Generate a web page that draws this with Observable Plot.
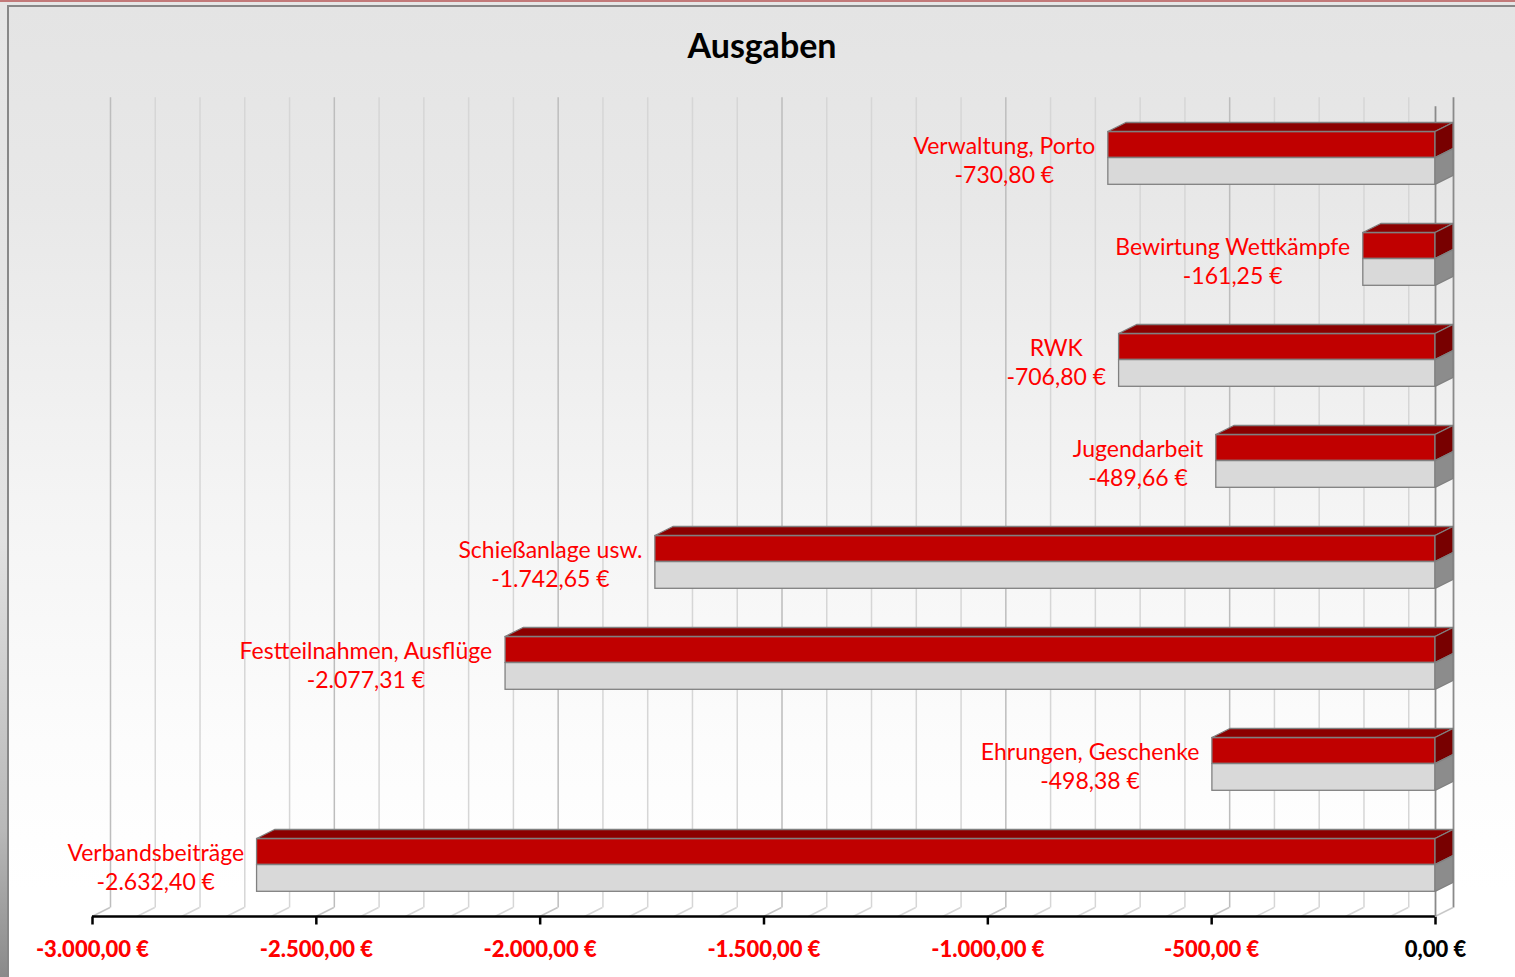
<!DOCTYPE html>
<html><head><meta charset="utf-8">
<script src="https://cdn.jsdelivr.net/npm/d3@7"></script>
<script src="https://cdn.jsdelivr.net/npm/@observablehq/plot@0.6"></script>
<style>
html,body{margin:0;padding:0;}
body{width:1515px;height:977px;overflow:hidden;background:#e6e6e6;position:relative;font-family:Lato,sans-serif;}
#topline{position:absolute;left:0;top:0;width:1515px;height:2px;background:#c27a7a;}
#leftstrip{position:absolute;left:0;top:2px;width:7px;height:975px;background:linear-gradient(to bottom,#e6e6e6 0%,#e2e2e2 55%,#b8b8b8 85%,#8a8a8a 100%);}
#frame{position:absolute;left:7px;top:5px;width:1520px;height:980px;border-left:2px solid #888;border-top:2px solid #888;background:linear-gradient(to bottom,#e4e4e4 0%,#e8e8e8 20%,#f4f4f4 50%,#fcfcfc 75%,#ffffff 90%);}
#title{position:absolute;left:0;top:25px;width:1524px;text-align:center;font-family:Lato,sans-serif;font-weight:bold;font-size:34px;line-height:40px;color:#000;}
#chart{position:absolute;left:0;top:90px;}
</style>
</head><body>
<div id="topline"></div>
<div id="leftstrip"></div>
<div id="frame"></div>
<div id="title">Ausgaben</div>
<div id="chart"></div>
<script>
// ---- data ----
const categories = ["Verwaltung, Porto","Bewirtung Wettkämpfe","RWK","Jugendarbeit","Schießanlage usw.","Festteilnahmen, Ausflüge","Ehrungen, Geschenke","Verbandsbeiträge"];
const amounts = [-730.80,-161.25,-706.80,-489.66,-1742.65,-2077.31,-498.38,-2632.40];
const axisTicks = [-3000,-2500,-2000,-1500,-1000,-500,0];
const gridTicks = d3.range(-3000, 1, 100);

const rows = categories.map((c,i)=>({cat:c, value:amounts[i]}));

// ---- formatting ----
const loc = d3.formatLocale({decimal:",", thousands:".", grouping:[3], currency:["",""], minus:"-"});
const num = loc.format(",.2f");
const fmt = v => num(v) + "\u00a0€";

const canvas = document.createElement("canvas");
const ctx = canvas.getContext("2d");
const LABEL_SIZE = 23;
ctx.font = LABEL_SIZE + "px Lato";
const measure = s => ctx.measureText(s).width;

// ---- 3D geometry (pixels) ----
const DX = 18, DY = 9;
const INSET_TOP = 24.5, INSET_MID = 50.6, INSET_BOTTOM = 23.7;

function poly(g, pts, fill, stroke, sw){
  g.append("path").attr("d", "M" + pts.map(p=>p.join(",")).join("L") + "Z")
    .attr("fill", fill).attr("stroke", stroke).attr("stroke-width", sw).attr("stroke-linejoin","round");
}

function floorMark(index, scales, values, dim){
  const x = scales.x;
  const yb = dim.height - dim.marginBottom;
  const g = d3.create("svg:g");
  for (const v of gridTicks){
    if (v === 0) continue;
    g.append("line").attr("x1", x(v)+DX).attr("y1", yb-DY).attr("x2", x(v)).attr("y2", yb)
      .attr("stroke", v % 500 === 0 ? "#c4c4c4" : "#d6d6d6").attr("stroke-width", 1.5);
  }
  g.append("line").attr("x1", x(0)+DX).attr("y1", yb-DY).attr("x2", x(0)).attr("y2", yb)
    .attr("stroke", "#c8c8c8").attr("stroke-width", 1.5);
  g.append("line").attr("x1", x(axisTicks[0])).attr("x2", x(0)).attr("y1", yb).attr("y2", yb)
    .attr("stroke", "#000").attr("stroke-width", 2.5);
  return g.node();
}

function facesMark(index, scales, values, dim){
  const x = scales.x, y = scales.y;
  const step = y(categories[1]) - y(categories[0]);
  const g = d3.create("svg:g");
  for (const r of rows){
    const y0 = y(r.cat);
    const top = y0 + INSET_TOP, mid = y0 + INSET_MID, bot = y0 + step - INSET_BOTTOM;
    const xl = x(r.value), xr = x(0);
    poly(g, [[xl,top],[xl+DX,top-DY],[xr+DX,top-DY],[xr,top]], "#8b0000", "#808080", 1.3);
    poly(g, [[xr,top],[xr+DX,top-DY],[xr+DX,mid-DY],[xr,mid]], "#780000", "#808080", 1.3);
    poly(g, [[xr,mid],[xr+DX,mid-DY],[xr+DX,bot-DY],[xr,bot]], "#8c8c8c", "#808080", 1.3);
  }
  return g.node();
}

const labelMarks = rows.map(r => {
  const w = Math.max(measure(r.cat), measure(fmt(r.value)));
  return Plot.text([r], {
    x: "value", y: "cat",
    text: d => d.cat + "\n" + fmt(d.value),
    textAnchor: "middle", dx: -(13 + w/2), dy: 1,
    fill: "#ff0000", fontSize: LABEL_SIZE, lineHeight: 1.28
  });
});

const plot = Plot.plot({
  width: 1515, height: 887,
  marginLeft: 92, marginRight: 80, marginTop: 16.35, marginBottom: 60.5,
  style: {background: "transparent", fontFamily: "Lato, sans-serif", overflow: "visible"},
  x: {domain: [-3000, 0], ticks: axisTicks, tickFormat: fmt, tickSize: 8, tickPadding: 16, label: null},
  y: {domain: categories, padding: 0, axis: null},
  marks: [
    Plot.ruleX(gridTicks.filter(v => v !== 0), {dx: DX, dy: -DY, stroke: d => d % 500 === 0 ? "#bdbdbd" : "#d6d6d6", strokeWidth: 1.5}),
    Plot.ruleX([0], {dx: DX, dy: -DY, stroke: "#8a8a8a", strokeWidth: 1.8}),
    floorMark,
    Plot.ruleX([0], {stroke: "#8a8a8a", strokeWidth: 1.8}),
    Plot.barX(rows, {x1: "value", x2: d => 0, y: "cat", insetTop: INSET_TOP, insetBottom: (101.3 - INSET_MID), fill: "#c00000", stroke: "#808080", strokeWidth: 1.3}),
    Plot.barX(rows, {x1: "value", x2: d => 0, y: "cat", insetTop: INSET_MID, insetBottom: INSET_BOTTOM, fill: "#d9d9d9", stroke: "#808080", strokeWidth: 1.3}),
    facesMark,
    ...labelMarks
  ]
});

plot.querySelectorAll('[aria-label^="x-axis"] text').forEach(t => {
  t.style.fill = t.textContent.trim().startsWith("-") ? "#ff0000" : "#000000";
  t.style.fontWeight = "900";
  t.style.fontSize = "22px";
  t.style.fontFamily = "Lato, sans-serif";
});
plot.querySelectorAll('[aria-label^="x-axis"] line, [aria-label^="x-axis tick"] path').forEach(l => {
  l.style.stroke = "#000";
  l.style.strokeWidth = "2.5";
});
document.getElementById("chart").appendChild(plot);
</script>
</body></html>
